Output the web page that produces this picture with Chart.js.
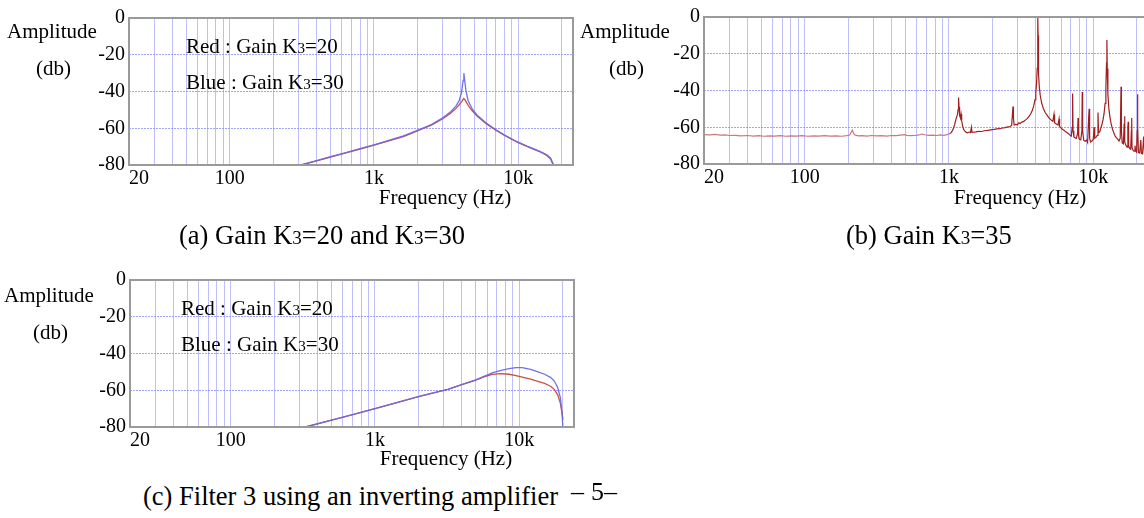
<!DOCTYPE html>
<html><head><meta charset="utf-8">
<script src="https://cdn.jsdelivr.net/npm/chart.js@4.4.0/dist/chart.umd.min.js"></script>
<style>
html,body{margin:0;padding:0;background:#fff;width:1144px;height:518px;overflow:hidden;position:relative;font-family:"Liberation Serif","Times New Roman",serif;color:#000;}
.t{position:absolute;white-space:nowrap;line-height:1;}
.c{transform:translateX(-50%);}
.s{font-size:72%;}
canvas{position:absolute;}
</style></head><body>
<canvas id="ca"></canvas>
<canvas id="cb"></canvas>
<canvas id="cc"></canvas>

<div class="t" style="left:7px;top:21px;font-size:21px">Amplitude</div>
<div class="t" style="left:36px;top:58px;font-size:21px">(db)</div>
<div class="t" style="left:186px;top:36px;font-size:21px">Red : Gain K<span class="s">3</span>=20</div>
<div class="t" style="left:186px;top:72px;font-size:21px">Blue : Gain K<span class="s">3</span>=30</div>
<div class="t c" style="left:445px;top:187px;font-size:21px">Frequency (Hz)</div>
<div class="t" style="left:179px;top:222px;font-size:26.5px">(a) Gain K<span class="s">3</span>=20 and K<span class="s">3</span>=30</div>

<div class="t" style="left:580px;top:21px;font-size:21px">Amplitude</div>
<div class="t" style="left:609px;top:58px;font-size:21px">(db)</div>
<div class="t c" style="left:1020px;top:187px;font-size:21px">Frequency (Hz)</div>
<div class="t" style="left:846px;top:222px;font-size:26.5px">(b) Gain K<span class="s">3</span>=35</div>

<div class="t" style="left:4px;top:285px;font-size:21px">Amplitude</div>
<div class="t" style="left:33px;top:322px;font-size:21px">(db)</div>
<div class="t" style="left:181px;top:298px;font-size:21px">Red : Gain K<span class="s">3</span>=20</div>
<div class="t" style="left:181px;top:334px;font-size:21px">Blue : Gain K<span class="s">3</span>=30</div>
<div class="t c" style="left:446px;top:448px;font-size:21px">Frequency (Hz)</div>
<div class="t" style="left:143px;top:483px;font-size:26.5px">(c) Filter 3 using an inverting amplifier</div>
<div class="t" style="left:571px;top:479px;font-size:26px">–</div>
<div class="t" style="left:591px;top:479px;font-size:26px">5–</div>

<script>
// ---- tick definitions ----
const gridFreqs = [20,30,40,50,60,70,80,90,100,200,300,400,500,600,700,800,900,1000,2000,3000,4000,5000,6000,7000,8000,9000,10000,20000];
const xTickLabels = {20:'20',100:'100',1000:'1k',10000:'10k'};
const yTicks = [-80,-60,-40,-20,0];

// ---- panel (a) ----
const freqA = [315,400,500,630,800,1000,1250,1600,2000,2500,3000,3400,3700,3900,4050,4150,4200,4250,4350,4500,4800,5200,6000,7000,8000,9000,10000,11500,13000,14500,15800,16800,17500];
const redA  = [-80,-77.8,-75.7,-73.6,-71.3,-69.2,-67,-64.5,-61.5,-58.3,-54.8,-51.8,-49.2,-47.2,-45.5,-44.3,-43.9,-44.2,-45.5,-47.5,-50.5,-53.5,-57.5,-61,-63.8,-66,-67.8,-69.9,-71.6,-73.2,-74.8,-76.8,-80];
const blueA = [-79.8,-77.6,-75.5,-73.4,-71.1,-69,-66.8,-64.2,-61.2,-58,-54.3,-51,-48,-45,-40.5,-34,-30,-33.5,-40,-45,-49.5,-52.9,-57.2,-60.8,-63.6,-65.8,-67.6,-69.7,-71.4,-73,-74.5,-76.3,-79.5];

// ---- panel (b) ----
const freqB = [20,22,24,26,28,30,33,36,40,44,48,52,57,62,68,74,80,88,96,105,115,125,137,150,165,180,195,205,210,214,218,224,235,250,270,290,315,340,370,400,430,460,490,510,540,580,620,650,680,720,770,820,870,920,970,1010,1040,1070,1095,1115,1130,1145,1155,1162,1168,1174,1180,1190,1200,1212,1225,1245,1270,1300,1340,1380,1410,1430,1445,1480,1540,1600,1680,1760,1850,1950,2050,2150,2250,2350,2450,2560,2650,2720,2760,2780,2800,2830,2900,2980,3050,3120,3200,3300,3400,3500,3600,3700,3800,3880,3950,4000,4050,4090,4115,4130,4140,4150,4165,4190,4230,4300,4400,4520,4650,4800,4950,5100,5250,5350,5400,5550,5700,5800,5850,6000,6150,6300,6450,6600,6750,6900,7050,7150,7200,7250,7350,7500,7650,7800,7850,7900,8000,8200,8350,8400,8450,8600,8800,9000,9150,9300,9380,9450,9600,9800,10000,10150,10250,10450,10650,10800,10900,11100,11300,11500,11700,11900,12100,12250,12380,12450,12520,12650,12850,13100,13350,13600,13900,14200,14500,14800,15100,15400,15600,15700,15900,16200,16400,16500,16600,16900,17200,17400,17500,17600,17900,18200,18400,18500,18600,18900,19200,19500,19700,20000,20200,20300,20400,20600,21000,21400,21600,22000,22400,22700,23200,23700,24000];
const dbB = [-64.0,-64.2,-63.9,-64.3,-64.1,-64.5,-64.4,-64.7,-64.5,-64.8,-64.6,-64.9,-64.7,-64.8,-64.6,-64.9,-64.7,-64.8,-64.6,-64.9,-64.7,-64.8,-64.6,-64.8,-64.7,-64.9,-64.6,-64.2,-62.6,-61.6,-63.4,-64.3,-64.7,-64.6,-64.8,-64.5,-64.7,-64.6,-64.8,-64.5,-64.6,-64.3,-64.0,-64.4,-64.6,-64.5,-64.2,-63.7,-64.1,-64.4,-64.3,-64.5,-64.2,-64.4,-64.0,-63.6,-62.8,-61.0,-58.5,-56.0,-54.5,-53.0,-50.5,-46.0,-43.8,-49.0,-54.0,-53.0,-55.0,-52.8,-56.5,-59.5,-61.5,-62.5,-63.0,-62.6,-62.9,-60.0,-62.8,-62.7,-62.5,-62.2,-62.3,-61.9,-61.7,-61.4,-61.2,-60.9,-60.8,-60.4,-60.2,-59.8,-59.7,-59.0,-52.0,-48.7,-55.0,-58.8,-58.5,-58.7,-57.6,-58.0,-57.2,-56.8,-56.0,-55.2,-54.0,-52.5,-50.5,-48.0,-45.0,-41.5,-36.0,-28.0,-18.0,-8.0,0,-10.0,-22.0,-31.0,-38.0,-43.0,-47.0,-50.0,-52.0,-53.5,-55.0,-56.0,-56.8,-53.0,-57.5,-58.2,-58.8,-55.5,-59.5,-60.5,-61.2,-61.8,-62.5,-63.0,-63.5,-64.3,-64.8,-60.0,-41.7,-62.0,-65.3,-65.8,-66.0,-63.0,-55.0,-64.0,-66.4,-66.8,-62.0,-40.8,-62.0,-67.2,-67.6,-67.0,-68.3,-55.0,-50.0,-66.0,-68.0,-67.5,-66.8,-60.0,-66.0,-65.5,-64.5,-52.0,-63.0,-62.5,-60.5,-58.5,-56.0,-52.5,-47.0,-38.0,-25.0,-12.5,-28.0,-42.0,-50.0,-55.0,-58.5,-61.0,-63.0,-64.8,-65.8,-66.5,-67.5,-66.0,-38.0,-62.0,-68.5,-69.0,-58.0,-54.0,-68.0,-70.0,-70.8,-60.0,-57.0,-70.0,-71.5,-72.0,-62.0,-55.0,-71.0,-72.5,-73.0,-70.0,-72.8,-73.5,-62.0,-42.0,-60.0,-73.8,-74.0,-67.0,-74.2,-74.5,-65.0,-74.0,-74.6,-70.0,-74.5];

// ---- panel (c) ----
const freqC = [330,500,700,1000,1500,2000,2500,3200,4000,5000,5700,6500,7500,8500,9500,10500,12000,13500,15000,16500,17500,18500,19300,19800,20100];
const redC  = [-80,-76.3,-73.3,-70,-66.2,-63.5,-61.5,-59.5,-57,-54.5,-52.7,-51.4,-51,-51.3,-52,-52.8,-54,-55.2,-56.3,-57.8,-59.5,-62.5,-67,-72,-76];
const blueC = [-80,-76.3,-73.3,-70,-66.2,-63.5,-61.5,-59.5,-57,-54.3,-52.4,-50.6,-49.2,-48.2,-47.7,-47.7,-48.6,-50,-51.3,-53,-55,-58.5,-64,-72,-80];

const RED = 'rgb(200,80,70)';
const BLUE = 'rgba(105,105,225,0.95)';
const FONT = '"Liberation Serif","Times New Roman",serif';

const YW = 60, PT = 12, PR = 4, XH = 28;

const framePlugin = {
  id:'frame',
  afterDraw(chart){
    const a = chart.chartArea, ctx = chart.ctx;
    ctx.save();
    ctx.strokeStyle = '#9a9a9a';
    ctx.lineWidth = 2;
    ctx.strokeRect(a.left, a.top, a.right - a.left, a.bottom - a.top);
    ctx.restore();
  }
};

function pts(fs, vs){ return fs.map((f,i)=>({x:f, y:vs[i]})); }

function makePanel(id, plotLeft, plotTop, datasets){
  const plotW = 444, plotH = 151;
  const cv = document.getElementById(id);
  const W = YW + plotW + PR, H = PT + plotH + XH;
  cv.width = W; cv.height = H;
  cv.style.width = W + 'px'; cv.style.height = H + 'px';
  cv.style.left = (plotLeft - YW) + 'px';
  cv.style.top = (plotTop - PT) + 'px';
  return new Chart(cv, {
    type:'line',
    data:{datasets},
    plugins:[framePlugin],
    options:{
      responsive:false, animation:false, devicePixelRatio:1,
      layout:{padding:{left:0,right:PR,top:PT,bottom:0}},
      plugins:{legend:{display:false}, tooltip:{enabled:false}},
      elements:{point:{radius:0}, line:{tension:0}},
      scales:{
        x:{
          type:'logarithmic', min:20, max:24000,
          afterBuildTicks:s=>{ s.ticks = gridFreqs.map(v=>({value:v})); },
          afterFit:s=>{ s.height = XH; },
          grid:{color:'rgba(170,170,250,0.75)', lineWidth:1, drawTicks:false},
          border:{display:false},
          ticks:{autoSkip:false, maxRotation:0, minRotation:0, align:'inner', padding:2,
                 color:'#000', font:{family:FONT, size:20},
                 callback:(v)=> xTickLabels[v] || ''}
        },
        y:{
          type:'linear', min:-80, max:0,
          afterBuildTicks:s=>{ s.ticks = yTicks.map(v=>({value:v})); },
          afterFit:s=>{ s.width = YW; },
          grid:{color:'rgba(140,140,250,0.8)', lineWidth:1, drawTicks:false},
          border:{display:false, dash:[2,1]},
          ticks:{padding:4, color:'#000', font:{family:FONT, size:20},
                 callback:(v)=> String(v)}
        }
      }
    }
  });
}

makePanel('ca', 129, 14, [
  {data:pts(freqA, blueA), borderColor:BLUE, borderWidth:1.3},
  {data:pts(freqA, redA), borderColor:RED, borderWidth:1.3}
]);

makePanel('cb', 704, 13, [
  {data:pts(freqB, dbB), borderWidth:1.2, borderColor:'rgb(160,30,30)',
   segment:{borderColor:c => c.p0.parsed.x < 1000 ? 'rgb(205,120,120)' : 'rgb(160,30,30)'}}
]);

makePanel('cc', 130, 276, [
  {data:pts(freqC, blueC), borderColor:BLUE, borderWidth:1.3},
  {data:pts(freqC, redC), borderColor:RED, borderWidth:1.3}
]);
</script>
</body></html>
